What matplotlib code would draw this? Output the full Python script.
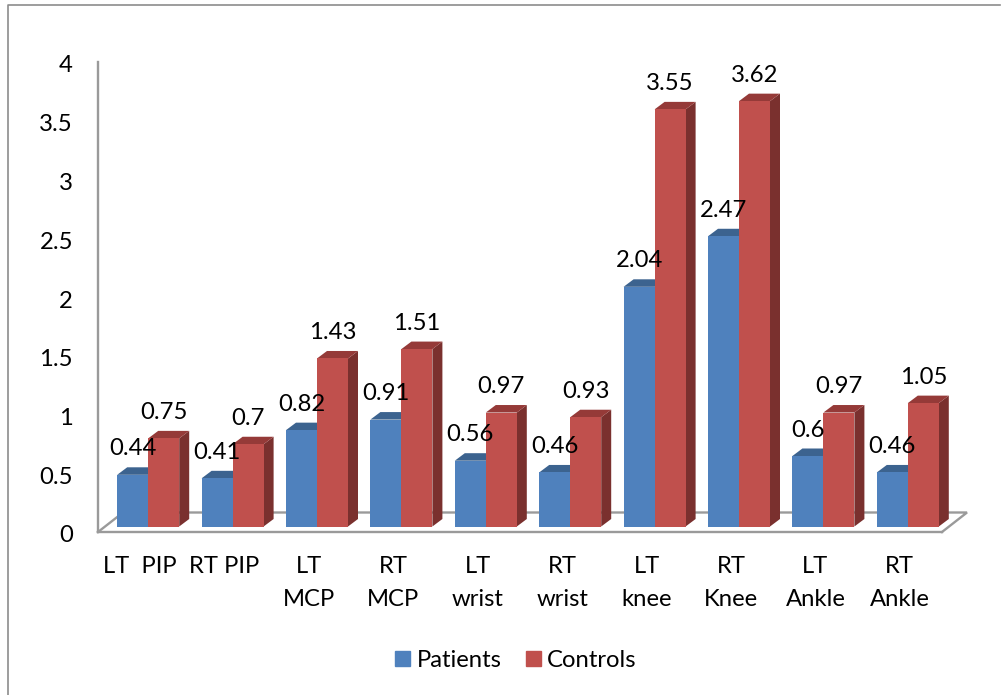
#! /usr/bin/env python3
import matplotlib
matplotlib.use("Agg")
import matplotlib.pyplot as plt
from matplotlib.lines import Line2D
from matplotlib.patches import Patch, Polygon
from matplotlib.transforms import ScaledTranslation

categories = ["LT  PIP", "RT PIP", "LT\nMCP", "RT\nMCP", "LT\nwrist",
              "RT\nwrist", "LT\nknee", "RT\nKnee", "LT\nAnkle", "RT\nAnkle"]
patients = [0.44, 0.41, 0.82, 0.91, 0.56, 0.46, 2.04, 2.47, 0.6, 0.46]
controls = [0.75, 0.7, 1.43, 1.51, 0.97, 0.93, 3.55, 3.62, 0.97, 1.05]
y_ticks = [0, 0.5, 1, 1.5, 2, 2.5, 3, 3.5, 4]
y_tick_labels = ["0", "0.5", "1", "1.5", "2", "2.5", "3", "3.5", "4"]

W, H = 1002, 695
plt.rcParams["font.family"] = ["Lato", "DejaVu Sans"]
FS = 17.2
GREY = "#9a9a9a"

fig = plt.figure(figsize=(W / 100, H / 100), dpi=100)
# axes box is the front of the floor and the wall line
ax = fig.add_axes([98 / W, 1 - 532 / H, 844 / W, 470 / H])
ax.set_xlim(-0.5, 9.5)
ax.set_ylim(0, 4)

# pixels to data units
px_x = 10 / 844
px_y = 4 / 470

for s in ["top", "right"]:
    ax.spines[s].set_visible(False)
for s in ["left", "bottom"]:
    ax.spines[s].set_color(GREY)
    ax.spines[s].set_linewidth(1.7)

ax.set_xticks(range(len(categories)))
ax.set_xticklabels(categories, fontsize=FS, linespacing=1.7, va="top")
ax.set_yticks(y_ticks)
ax.set_yticklabels(y_tick_labels, fontsize=FS, va="center_baseline")
ax.tick_params(axis="x", length=0, pad=17)
ax.tick_params(axis="y", length=0, pad=18)

# tick labels sit a little lower than the tick position
nudge = ScaledTranslation(0, -2 / 100, fig.dpi_scale_trans)
for t in ax.get_yticklabels():
    t.set_transform(t.get_transform() + nudge)

# floor back and side edges
fl_dx = 25 * px_x
fl_dy = 19.5 * px_y
ax.plot([-0.5, -0.5 + fl_dx, 9.5 + fl_dx, 9.5], [0, fl_dy, fl_dy, 0],
        color=GREY, lw=1.7, clip_on=False, zorder=1, solid_joinstyle="miter")

bar_w = 31 * px_x
shift_x = 8 * px_x
shift_y = 5.5 * px_y
depth_x = 10 * px_x
depth_y = 7.5 * px_y


def bar3d(x, v, front, top, side, z):
    b = shift_y
    t = v + shift_y
    left = x
    right = x + bar_w
    ax.add_patch(Polygon([(right, b), (right + depth_x, b + depth_y),
                          (right + depth_x, t + depth_y), (right, t)],
                         fc=side, ec="none", clip_on=False, zorder=z))
    ax.add_patch(Polygon([(left, t), (left + depth_x, t + depth_y),
                          (right + depth_x, t + depth_y), (right, t)],
                         fc=top, ec="none", clip_on=False, zorder=z))
    ax.bar(left, v, bar_w, bottom=b, align="edge", color=front,
           edgecolor="none", clip_on=False, zorder=z + 0.5)
    ax.annotate(f"{v:g}", (left + bar_w / 2, t), xytext=(0, 18.6),
                textcoords="offset points", ha="center", va="center",
                fontsize=FS, color="black", zorder=50, annotation_clip=False)


for i in range(len(categories)):
    x0 = i + shift_x
    bar3d(x0 - bar_w, patients[i], "#4F81BD", "#3C638F", "#36597F", 10 + i)
    bar3d(x0, controls[i], "#C0504D", "#953A38", "#7A302E", 10.7 + i)

ax.set_xlim(-0.5, 9.5)
ax.set_ylim(0, 4)

# outer frame of the chart, cut at the image edge
fig.add_artist(Line2D([8 / W, 8 / W, 1000 / W], [0, 1 - 5 / H, 1 - 5 / H],
                      color="#8c8c8c", lw=1.2))

handles = [Patch(color="#4F81BD", label="Patients"),
           Patch(color="#C0504D", label="Controls")]
fig.legend(handles=handles, loc="center", bbox_to_anchor=(516 / W, 1 - 660.5 / H),
           ncol=2, frameon=False, fontsize=FS, handlelength=0.63, handleheight=0.63,
           handletextpad=0.25, columnspacing=1.04, borderpad=0)

fig.savefig("out.png", dpi=100)
